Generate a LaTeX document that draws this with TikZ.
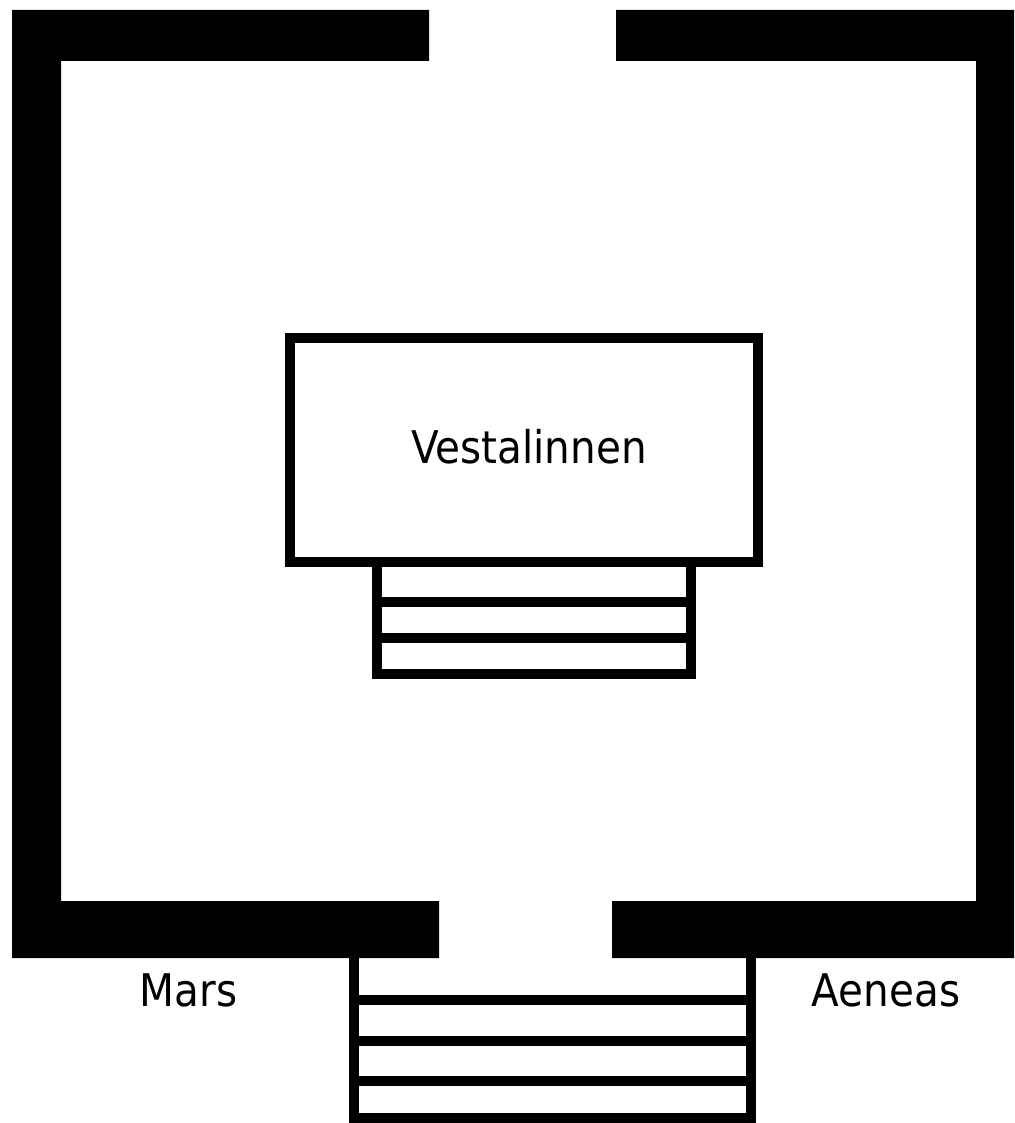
\documentclass[tikz,border=0pt]{standalone}
\usepackage{fontspec}
\newfontfamily\labfont[FakeStretch=0.9]{DejaVu Sans}
\begin{document}
\begin{tikzpicture}[x=1pt,y=-1pt,
  wall/.style={fill=black,draw=none},
  outline/.style={draw=black,line width=10pt,line join=miter},
  lab/.style={font=\labfont\fontsize{45}{54}\selectfont,inner sep=0pt,anchor=base}]
\useasboundingbox (0,0) rectangle (1014,1123);
% front stairs (open at the top, under the wall)
\coordinate (fsa) at (354,950);
\coordinate (fsb) at (354,1118);
\coordinate (fsc) at (751,1118);
\coordinate (fsd) at (751,950);
\draw[outline] (fsa) -- (fsb) -- (fsc) -- (fsd);
\foreach \y in {1000,1040.5,1081}{\draw[outline] (354,\y) -- (751,\y);}
% walls
\fill[wall] (12,10) -- (429,10) -- (429,61) -- (61,61) -- (61,901) -- (439,901) -- (439,958) -- (12,958) -- cycle;
\fill[wall] (616,10) -- (1014,10) -- (1014,958) -- (612,958) -- (612,901) -- (976,901) -- (976,61) -- (616,61) -- cycle;
% altar steps
\coordinate (as1) at (377,562);
\coordinate (as2) at (691,674);
\draw[outline] (as1) rectangle (as2);
\foreach \y in {602,638}{\draw[outline] (377,\y) -- (691,\y);}
% temple
\node[outline,fill=white,minimum width=468pt,minimum height=224pt,inner sep=0pt] (temple) at (524,450) {};
\node[lab] (vest) at (529,463) {Vestalinnen};
\node[lab] (mars) at (188.5,1006) {Mars};
\node[lab] (aeneas) at (886,1006) {Aeneas};
\end{tikzpicture}
\end{document}
